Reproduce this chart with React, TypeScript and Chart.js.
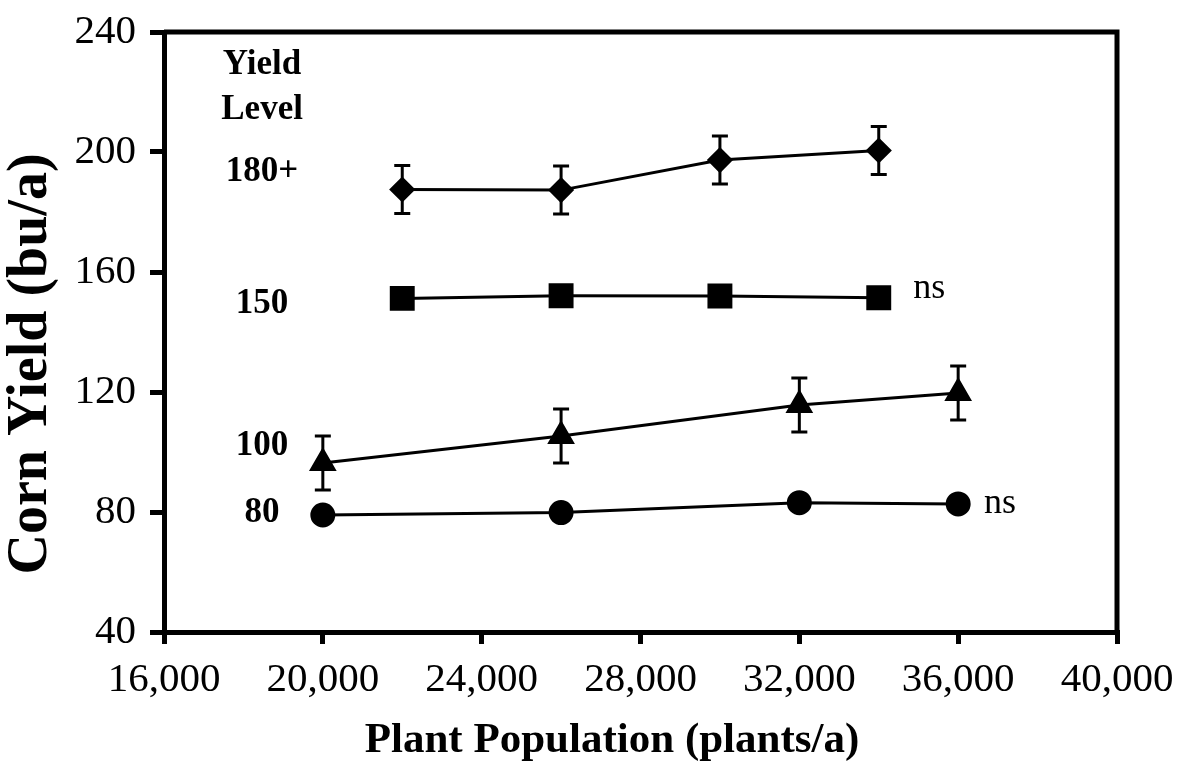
import React, { useEffect, useRef } from "react";
import { Chart, registerables } from "chart.js";

Chart.register(...registerables);

// ---- data ----
const pop180 = [22000, 26000, 30000, 34000];
const yield180 = [187.5, 187.3, 197.3, 200.5];
const err180 = [8, 8, 8, 8];

const pop150 = [22000, 26000, 30000, 34000];
const yield150 = [151.2, 152.1, 152.0, 151.4];

const pop100 = [20000, 26000, 32000, 36000];
const yield100 = [96.3, 105.3, 115.7, 119.7];
const err100 = [9, 9, 9, 9];

const pop80 = [20000, 26000, 32000, 36000];
const yield80 = [79.0, 79.8, 83.1, 82.7];

const xMin = 16000;
const xMax = 40000;
const xStep = 4000;
const yMin = 40;
const yMax = 240;
const yStep = 40;

const xTitle = "Plant Population (plants/a)";
const yTitle = "Corn Yield (bu/a)";

// in-plot text labels (data coordinates)
const headerTexts = ["Yield", "Level"];
const headerX = [18470, 18470];
const headerY = [229, 214];
const levelTexts = ["180+", "150", "100", "80"];
const levelX = [18470, 18470, 18470, 18470];
const levelY = [193.3, 149.3, 102, 79.8];
const nsTexts = ["ns", "ns"];
const nsX = [34870, 36650];
const nsY = [151.3, 79.7];

const SERIF = "'Liberation Serif', 'Times New Roman', Times, serif";

const toPts = (xs: number[], ys: number[]) => xs.map((x, i) => ({ x, y: ys[i] }));

const framePlugin = {
  id: "frame",
  afterDraw(chart: any) {
    const { ctx, chartArea } = chart;
    ctx.save();
    ctx.strokeStyle = "#000";
    ctx.lineWidth = 5;
    ctx.beginPath();
    ctx.moveTo(chartArea.left, chartArea.top);
    ctx.lineTo(chartArea.right, chartArea.top);
    ctx.lineTo(chartArea.right, chartArea.bottom);
    ctx.stroke();
    ctx.restore();
  },
};

const errorBarPlugin = {
  id: "errorBars",
  beforeDatasetsDraw(chart: any) {
    const { ctx } = chart;
    const xs = chart.scales.x;
    const ys = chart.scales.y;
    ctx.save();
    ctx.strokeStyle = "#000";
    ctx.lineWidth = 3;
    chart.data.datasets.forEach((ds: any) => {
      if (!ds.errors) return;
      ds.data.forEach((p: any, i: number) => {
        const e = ds.errors[i];
        const px = xs.getPixelForValue(p.x);
        const top = ys.getPixelForValue(p.y + e);
        const bot = ys.getPixelForValue(p.y - e);
        ctx.beginPath();
        ctx.moveTo(px, top);
        ctx.lineTo(px, bot);
        ctx.moveTo(px - 8, top);
        ctx.lineTo(px + 8, top);
        ctx.moveTo(px - 8, bot);
        ctx.lineTo(px + 8, bot);
        ctx.stroke();
      });
    });
    ctx.restore();
  },
};

const textPlugin = {
  id: "texts",
  afterDraw(chart: any) {
    const { ctx } = chart;
    const xs = chart.scales.x;
    const ys = chart.scales.y;
    ctx.save();
    ctx.fillStyle = "#000";
    ctx.textAlign = "center";
    ctx.textBaseline = "middle";
    ctx.font = `bold 35px ${SERIF}`;
    headerTexts.forEach((t, i) => {
      ctx.fillText(t, xs.getPixelForValue(headerX[i]), ys.getPixelForValue(headerY[i]));
    });
    levelTexts.forEach((t, i) => {
      ctx.fillText(t, xs.getPixelForValue(levelX[i]), ys.getPixelForValue(levelY[i]));
    });
    ctx.font = `36px ${SERIF}`;
    ctx.textAlign = "left";
    ctx.textBaseline = "alphabetic";
    nsTexts.forEach((t, i) => {
      ctx.fillText(t, xs.getPixelForValue(nsX[i]), ys.getPixelForValue(nsY[i]));
    });

    // axis titles
    ctx.textAlign = "center";
    ctx.textBaseline = "middle";
    ctx.font = `bold 43px ${SERIF}`;
    ctx.fillText(xTitle, 612, 741);
    ctx.save();
    ctx.translate(32, 364);
    ctx.rotate(-Math.PI / 2);
    ctx.font = `bold 56px ${SERIF}`;
    ctx.fillText(yTitle, 0, 0);
    ctx.restore();
    ctx.restore();
  },
};

export default function App() {
  const ref = useRef<HTMLCanvasElement | null>(null);

  useEffect(() => {
    document.body.style.margin = "0";
    const canvas = ref.current!;
    const common = {
      borderColor: "#000",
      backgroundColor: "#000",
      pointBackgroundColor: "#000",
      pointBorderColor: "#000",
      borderWidth: 3,
      showLine: true,
      fill: false,
      tension: 0,
    };
    const chart = new Chart(canvas, {
      type: "scatter",
      data: {
        datasets: [
          { ...common, label: "180+", data: toPts(pop180, yield180), pointStyle: "rectRot", pointRadius: 11, errors: err180 } as any,
          { ...common, label: "150", data: toPts(pop150, yield150), pointStyle: "rect", pointRadius: 15.5 } as any,
          { ...common, label: "100", data: toPts(pop100, yield100), pointStyle: "triangle", pointRadius: 13, errors: err100 } as any,
          { ...common, label: "80", data: toPts(pop80, yield80), pointStyle: "circle", pointRadius: 11 } as any,
        ],
      },
      options: {
        responsive: false,
        animation: false,
        devicePixelRatio: 1,
        layout: { padding: { top: 32, right: 63, left: 0, bottom: 0 } },
        plugins: { legend: { display: false }, tooltip: { enabled: false } },
        scales: {
          x: {
            type: "linear",
            min: xMin,
            max: xMax,
            afterFit: (s: any) => {
              s.height = 135;
              s.paddingLeft = 0;
              s.paddingRight = 0;
            },
            afterBuildTicks: (s: any) => {
              const t = [];
              for (let v = xMin; v <= xMax; v += xStep) t.push({ value: v });
              s.ticks = t;
            },
            ticks: {
              color: "#000",
              font: { family: SERIF, size: 41 },
              padding: 12,
              maxRotation: 0,
              callback: (v: any) => Number(v).toLocaleString("en-US"),
            },
            grid: { display: true, drawOnChartArea: false, drawTicks: true, tickLength: 12, color: "#000", lineWidth: 5 },
            border: { display: true, color: "#000", width: 5 },
            title: { display: false },
          },
          y: {
            type: "linear",
            min: yMin,
            max: yMax,
            afterFit: (s: any) => {
              s.width = 164;
              s.paddingTop = 0;
              s.paddingBottom = 0;
            },
            afterBuildTicks: (s: any) => {
              const t = [];
              for (let v = yMin; v <= yMax; v += yStep) t.push({ value: v });
              s.ticks = t;
            },
            ticks: {
              color: "#000",
              font: { family: SERIF, size: 41 },
              padding: 14,
            },
            grid: { display: true, drawOnChartArea: false, drawTicks: true, tickLength: 14, color: "#000", lineWidth: 5 },
            border: { display: true, color: "#000", width: 5 },
            title: { display: false },
          },
        },
      } as any,
      plugins: [framePlugin, errorBarPlugin, textPlugin],
    });
    return () => chart.destroy();
  }, []);

  return (
    <div style={{ width: 1180, height: 767 }}>
      <canvas ref={ref} width={1180} height={767} style={{ display: "block" }} />
    </div>
  );
}
